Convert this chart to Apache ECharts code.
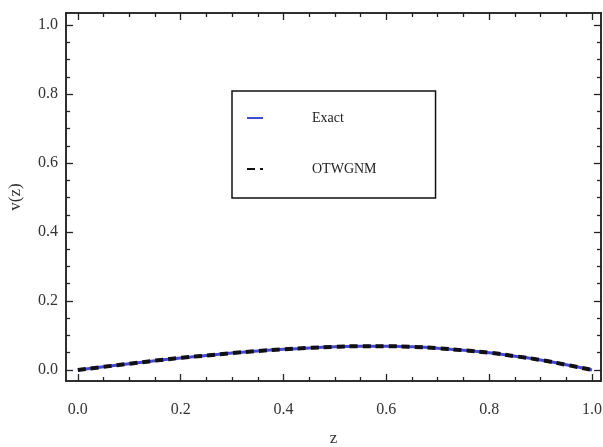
<!DOCTYPE html>
<html>
<head>
<meta charset="utf-8">
<script src="https://cdn.jsdelivr.net/npm/echarts@6/dist/echarts.min.js"></script>
<style>
  html, body { margin: 0; padding: 0; background: #fff; }
  #main { width: 603px; height: 447px; }
</style>
</head>
<body>
<div id="main"></div>
<script>
// values
const zValues = [0, 0.05, 0.1, 0.15, 0.2, 0.25, 0.3, 0.35, 0.4, 0.45, 0.5,
  0.55, 0.6, 0.65, 0.7, 0.75, 0.8, 0.85, 0.9, 0.95, 1.0];
const exactValues = [0, 0.009, 0.018, 0.027, 0.035, 0.042, 0.049, 0.055, 0.060, 0.064, 0.067,
  0.069, 0.069, 0.067, 0.063, 0.057, 0.050, 0.040, 0.029, 0.015, 0];
const otwgnmValues = [0, 0.009, 0.018, 0.027, 0.035, 0.042, 0.049, 0.055, 0.060, 0.064, 0.067,
  0.069, 0.069, 0.067, 0.063, 0.057, 0.050, 0.040, 0.029, 0.015, 0];
const majorTicks = [0, 0.2, 0.4, 0.6, 0.8, 1.0];
const minorTicks = [0.05, 0.1, 0.15, 0.25, 0.3, 0.35, 0.45, 0.5, 0.55,
  0.65, 0.7, 0.75, 0.85, 0.9, 0.95];
const seriesNames = ['Exact', 'OTWGNM'];

const chart = echarts.init(document.getElementById('main'));

const font = 'Liberation Serif';
const xMin = -0.023, xMax = 1.0175;
const yMin = -0.032, yMax = 1.035;

function pairs(ys) {
  return zValues.map((z, i) => [z, ys[i]]);
}

function makeAxis(pos, values, len, labels, isX) {
  return {
    type: 'value',
    position: pos,
    min: isX ? xMin : yMin,
    max: isX ? xMax : yMax,
    axisLine: { show: true, onZero: false, lineStyle: { color: '#222', width: 1.5 } },
    axisTick: {
      show: true,
      inside: true,
      length: len,
      customValues: values,
      lineStyle: { color: '#222', width: 1.3 }
    },
    axisLabel: labels ? {
      show: true,
      customValues: values,
      formatter: v => v.toFixed(1),
      fontFamily: font,
      fontSize: 16,
      color: '#333',
      margin: isX ? 21 : 8
    } : { show: false },
    splitLine: { show: false }
  };
}

const xBottom = makeAxis('bottom', majorTicks, 7, true, true);
xBottom.name = 'z';
xBottom.nameLocation = 'middle';
xBottom.nameGap = 49;
xBottom.nameTextStyle = { fontFamily: font, fontSize: 17, color: '#333' };

const yLeft = makeAxis('left', majorTicks, 7, true, false);
yLeft.name = 'v(z)';
yLeft.nameLocation = 'middle';
yLeft.nameGap = 42;
yLeft.nameTextStyle = { fontFamily: font, fontSize: 17, color: '#333' };

const option = {
  backgroundColor: '#fff',
  animation: false,
  grid: { left: 66, top: 13, right: 2, bottom: 66, outerBoundsMode: 'none', containLabel: false },
  legend: {
    orient: 'vertical',
    left: 232,
    top: 91,
    padding: [20, 59, 22, 14],
    itemGap: 37,
    itemWidth: 16,
    itemHeight: 6,
    borderColor: '#111',
    borderWidth: 1.5,
    itemStyle: { opacity: 0 },
    data: seriesNames,
    textStyle: {
      fontFamily: font,
      fontSize: 14,
      color: '#222',
      padding: [0, 0, 0, 44]
    }
  },
  xAxis: [
    xBottom,
    makeAxis('bottom', minorTicks, 4, false, true),
    makeAxis('top', majorTicks, 7, false, true),
    makeAxis('top', minorTicks, 4, false, true)
  ],
  yAxis: [
    yLeft,
    makeAxis('left', minorTicks, 4, false, false),
    makeAxis('right', majorTicks, 7, false, false),
    makeAxis('right', minorTicks, 4, false, false)
  ],
  series: [
    {
      name: seriesNames[0],
      type: 'line',
      data: pairs(exactValues),
      smooth: true,
      symbol: 'none',
      lineStyle: { color: '#4646d8', width: 3 },
      itemStyle: { color: '#4646d8' }
    },
    {
      name: seriesNames[1],
      type: 'line',
      data: pairs(otwgnmValues),
      smooth: true,
      symbol: 'none',
      lineStyle: { color: '#111', width: 4, type: [8, 5] },
      itemStyle: { color: '#111' }
    }
  ]
};

chart.setOption(option);
</script>
</body>
</html>
